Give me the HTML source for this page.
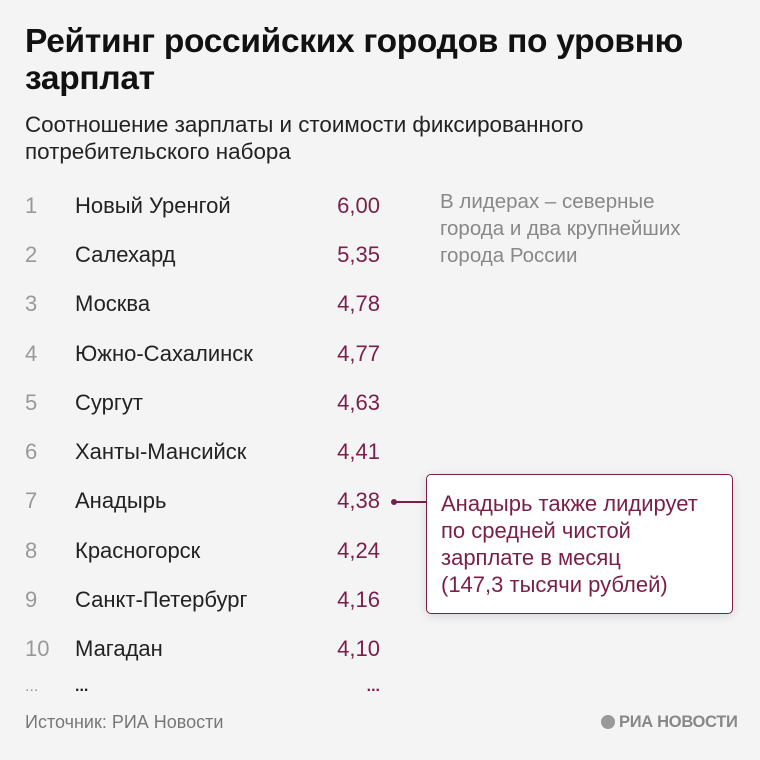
<!DOCTYPE html>
<html><head><meta charset="utf-8"><style>
body{margin:0;width:760px;height:760px;background:#f4f4f4;font-family:"Liberation Sans","Noto Sans CJK SC",sans-serif;position:relative;overflow:hidden}
div{position:absolute;white-space:nowrap}
.t{left:25px;top:23px;font-size:33.5px;font-weight:bold;line-height:37px;color:#111;letter-spacing:-0.3px}
.s{left:25px;top:111px;font-size:22.4px;line-height:27px;color:#222}
.r{font-size:22px;line-height:30px}
.n{left:25px;color:#999}
.c{left:75px;color:#222}
.v{right:380px;color:#7a1f4a;text-align:right}
.note{left:440px;top:188px;font-size:20.5px;line-height:27px;color:#888}
.box{left:426px;top:474px;width:305px;height:138px;background:#fff;border:1.5px solid #7a1f4a;border-radius:5px;box-shadow:0 2px 10px rgba(0,0,0,0.12)}
.bt{left:441px;top:490px;font-size:22px;line-height:27px;color:#7a1f4a}
</style></head><body>
<div class="t">Рейтинг российских городов по уровню<br>зарплат</div>
<div class="s">Соотношение зарплаты и стоимости фиксированного<br>потребительского набора</div>
<div class="note">В лидерах – северные<br>города и два крупнейших<br>города России</div>

<div class="r n" style="top:191px">1</div><div class="r c" style="top:191px">Новый Уренгой</div><div class="r v" style="top:191px">6,00</div>
<div class="r n" style="top:240px">2</div><div class="r c" style="top:240px">Салехард</div><div class="r v" style="top:240px">5,35</div>
<div class="r n" style="top:289px">3</div><div class="r c" style="top:289px">Москва</div><div class="r v" style="top:289px">4,78</div>
<div class="r n" style="top:339px">4</div><div class="r c" style="top:339px">Южно-Сахалинск</div><div class="r v" style="top:339px">4,77</div>
<div class="r n" style="top:388px">5</div><div class="r c" style="top:388px">Сургут</div><div class="r v" style="top:388px">4,63</div>
<div class="r n" style="top:437px">6</div><div class="r c" style="top:437px">Ханты-Мансийск</div><div class="r v" style="top:437px">4,41</div>
<div class="r n" style="top:486px">7</div><div class="r c" style="top:486px">Анадырь</div><div class="r v" style="top:486px">4,38</div>
<div class="r n" style="top:536px">8</div><div class="r c" style="top:536px">Красногорск</div><div class="r v" style="top:536px">4,24</div>
<div class="r n" style="top:585px">9</div><div class="r c" style="top:585px">Санкт-Петербург</div><div class="r v" style="top:585px">4,16</div>
<div class="r n" style="top:634px">10</div><div class="r c" style="top:634px">Магадан</div><div class="r v" style="top:634px">4,10</div>
<div class="r n" style="top:672px;font-size:16px">...</div><div class="r c" style="top:672px;font-size:16px;font-weight:bold">...</div><div class="r v" style="top:672px;font-size:16px;font-weight:bold">...</div>

<div style="left:391px;top:499px;width:6px;height:6px;border-radius:50%;background:#7a1f4a"></div>
<div style="left:394px;top:501px;width:33px;height:1.5px;background:#7a1f4a"></div>
<div class="box"></div>
<div class="bt">Анадырь также лидирует<br>по средней чистой<br>зарплате в месяц<br>(147,3 тысячи рублей)</div>

<div style="left:25px;top:711px;font-size:18px;line-height:22px;color:#777">Источник: РИА Новости</div>
<div style="left:601px;top:715px;width:14px;height:14px;border-radius:50%;background:#999"></div>
<div style="left:619px;top:712px;font-size:16.5px;line-height:20px;font-weight:bold;color:#888;letter-spacing:-0.3px">РИА НОВОСТИ</div>
</body></html>
